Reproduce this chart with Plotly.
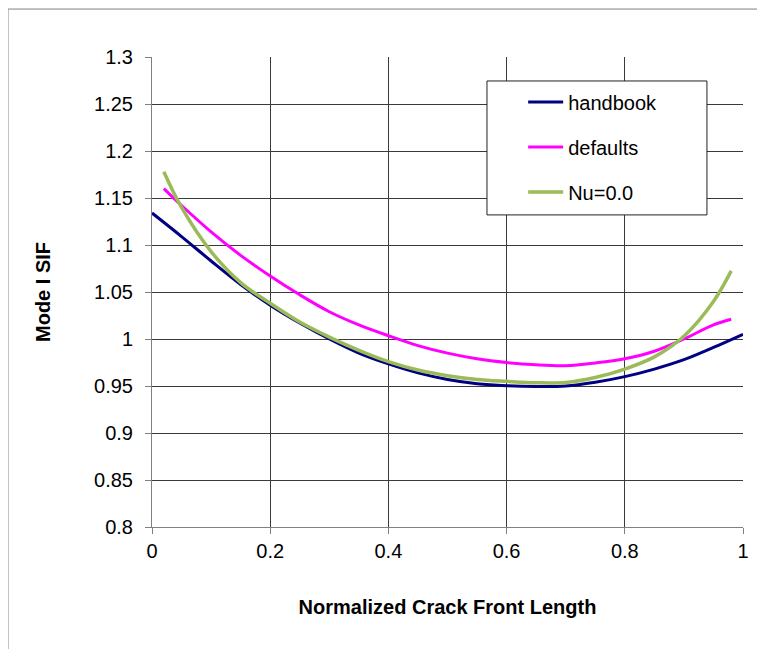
import plotly.graph_objects as go

# Data
handbook_x = [0.0, 0.05, 0.1, 0.15, 0.2, 0.25, 0.3, 0.35, 0.4, 0.45, 0.5, 0.55, 0.6, 0.65, 0.7, 0.75, 0.8, 0.85, 0.9, 0.95, 1.0]
handbook_y = [1.134, 1.109, 1.083, 1.058, 1.036, 1.017, 1.0, 0.985, 0.9735, 0.964, 0.957, 0.9525, 0.9503, 0.9495, 0.950, 0.954, 0.960, 0.968, 0.978, 0.991, 1.005]

defaults_x = [0.02, 0.05, 0.1, 0.15, 0.2, 0.25, 0.3, 0.35, 0.4, 0.45, 0.5, 0.55, 0.6, 0.65, 0.7, 0.75, 0.8, 0.85, 0.9, 0.95, 0.98]
defaults_y = [1.160, 1.142, 1.114, 1.089, 1.067, 1.047, 1.029, 1.015, 1.0035, 0.993, 0.985, 0.979, 0.975, 0.9725, 0.9716, 0.9745, 0.979, 0.987, 1.000, 1.015, 1.021]

nu0_x = [0.02, 0.05, 0.1, 0.15, 0.2, 0.25, 0.3, 0.35, 0.4, 0.45, 0.5, 0.55, 0.6, 0.65, 0.7, 0.75, 0.8, 0.85, 0.9, 0.95, 0.98]
nu0_y = [1.178, 1.140, 1.093, 1.060, 1.038, 1.018, 1.002, 0.988, 0.976, 0.967, 0.961, 0.957, 0.955, 0.9535, 0.9538, 0.959, 0.968, 0.981, 1.003, 1.040, 1.0725]

x_tickvals = [0, 0.2, 0.4, 0.6, 0.8, 1.0]
x_ticktext = ["0", "0.2", "0.4", "0.6", "0.8", "1"]
y_tickvals = [0.8, 0.85, 0.9, 0.95, 1.0, 1.05, 1.1, 1.15, 1.2, 1.25, 1.3]
y_ticktext = ["0.8", "0.85", "0.9", "0.95", "1", "1.05", "1.1", "1.15", "1.2", "1.25", "1.3"]

FONT = "Liberation Sans"
FS = 20

fig = go.Figure()
fig.add_trace(go.Scatter(x=handbook_x, y=handbook_y, mode="lines", name="handbook",
                         line=dict(color="#000080", width=3, shape="spline", smoothing=1.0),
                         legendgroup="a"))
fig.add_trace(go.Scatter(x=defaults_x, y=defaults_y, mode="lines", name="defaults",
                         line=dict(color="#FF00FF", width=3, shape="spline", smoothing=1.0),
                         legendgroup="b"))
fig.add_trace(go.Scatter(x=nu0_x, y=nu0_y, mode="lines", name="Nu=0.0",
                         line=dict(color="#9BBB59", width=3.5, shape="spline", smoothing=1.0),
                         legendgroup="c"))

axis_common = dict(
    showline=True, linecolor="#808080", linewidth=1,
    showgrid=True, gridcolor="#3a3a3a", gridwidth=1,
    ticks="outside", ticklen=6, tickcolor="#808080",
    zeroline=False,
    tickfont=dict(family=FONT, size=FS, color="#000000"),
)

fig.update_layout(
    width=765, height=649,
    margin=dict(l=144, r=30, t=49, b=130),
    paper_bgcolor="white", plot_bgcolor="white",
    font=dict(family=FONT, size=FS, color="#000000"),
    xaxis=dict(range=[0, 1], tickvals=x_tickvals, ticktext=x_ticktext,
               title=dict(text="<b>Normalized Crack Front Length</b>", font=dict(family=FONT, size=FS), standoff=38),
               **axis_common),
    yaxis=dict(range=[0.8, 1.3], tickvals=y_tickvals, ticktext=y_ticktext,
               ticklabelstandoff=8,
               title=dict(text="<b>Mode I SIF</b>", font=dict(family=FONT, size=FS), standoff=38),
               **axis_common),
    legend=dict(x=0.628, y=0.946, xanchor="left", yanchor="top",
                bgcolor="rgba(0,0,0,0)", borderwidth=0,
                font=dict(family=FONT, size=FS, color="#000000"),
                traceorder="grouped", tracegroupgap=16, itemwidth=35),
    showlegend=True,
)

# white legend box with dark border (drawn over the grid like the reference)
fig.add_shape(type="rect", xref="paper", yref="paper",
              x0=0.5668, x1=0.939, y0=0.664, y1=0.949,
              line=dict(color="#202020", width=1), fillcolor="white", layer="above")

# outer chart-area frame (clipped at right and bottom like the reference)
fig.add_shape(type="rect", xref="paper", yref="paper",
              x0=-0.2437, x1=1.12, y0=-0.30, y1=1.102,
              line=dict(color="#808080", width=1), fillcolor="rgba(0,0,0,0)", layer="below")

fig.write_html("out.html")
